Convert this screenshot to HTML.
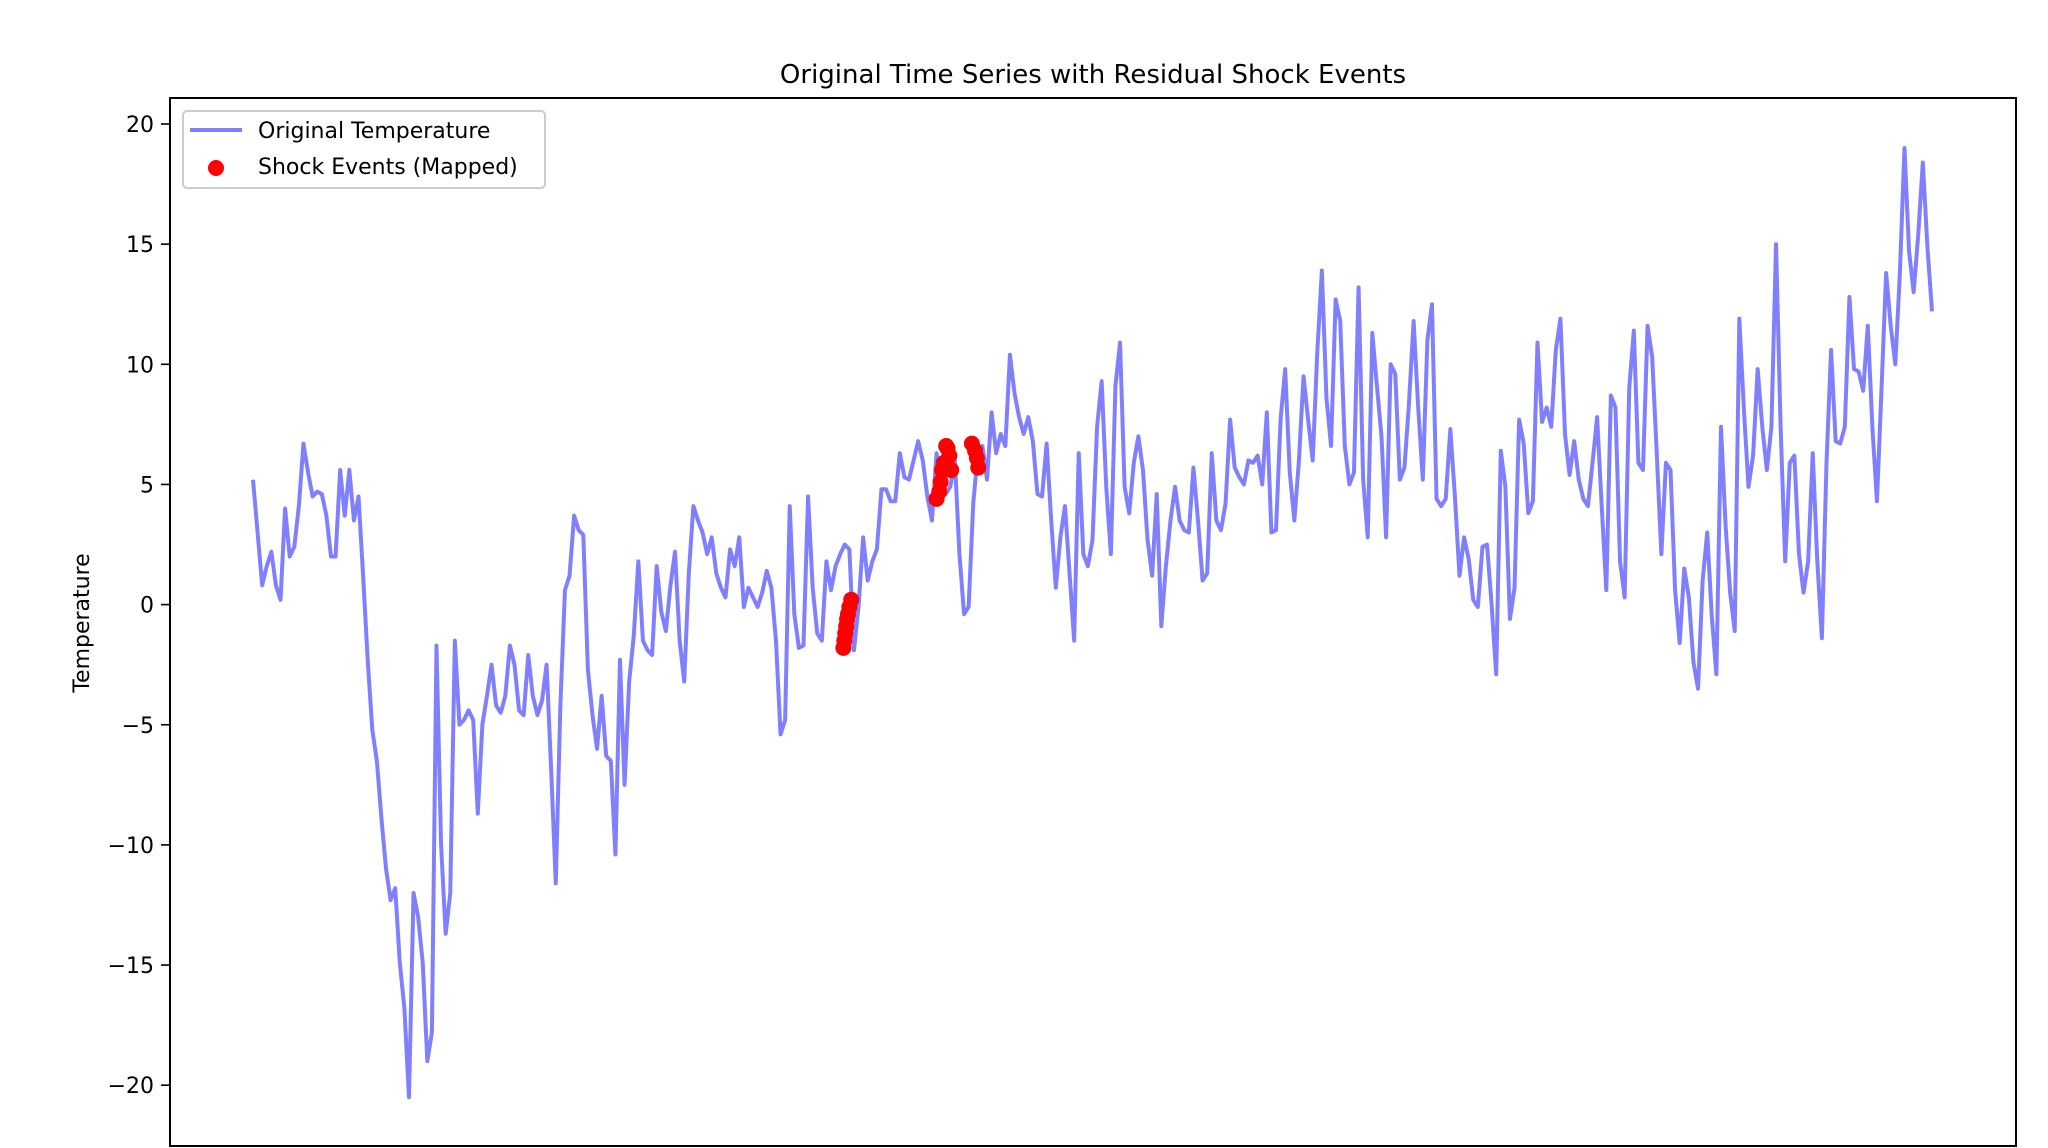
<!DOCTYPE html>
<html><head><meta charset="utf-8"><style>
html,body{margin:0;padding:0;background:#fff;}
svg{display:block;font-family:"DejaVu Sans","Liberation Sans",sans-serif;}
</style></head><body>
<svg id="chart" width="2048" height="1148" viewBox="0 0 2048 1148" xmlns="http://www.w3.org/2000/svg">
<rect width="2048" height="1148" fill="#fff"/>
<text x="1093" y="83" font-size="26" text-anchor="middle" fill="#000">Original Time Series with Residual Shock Events</text>
<text x="0" y="0" font-size="22" text-anchor="middle" fill="#000" transform="translate(89,623) rotate(-90)">Temperature</text>
<g id="yticks"></g>
<g id="plot"></g>
<rect x="170" y="98" width="1846" height="1048" fill="none" stroke="#000" stroke-width="2"/>
<g>
<rect x="183" y="111" width="362" height="77" rx="4" fill="#fff" fill-opacity="0.8" stroke="#ccc" stroke-width="2"/>
<line x1="190" y1="130" x2="242" y2="130" stroke="#8080ff" stroke-width="4"/>
<text x="258" y="138" font-size="22" fill="#000">Original Temperature</text>
<circle cx="216" cy="168" r="8" fill="#ff0000"/>
<text x="258" y="174" font-size="22" fill="#000">Shock Events (Mapped)</text>
</g>
</svg>
<script>
const yTicks = [20, 15, 10, 5, 0, -5, -10, -15, -20];
const yTickLabels = ["20", "15", "10", "5", "0", "\u22125", "\u221210", "\u221215", "\u221220"];
const temperature = [
5.2,3.0,0.8,1.6,2.2,0.8,0.2,4.0,2.0,2.4,4.1,6.7,5.5,4.5,4.7,4.6,3.7,2.0,2.0,5.6,3.7,5.6,3.5,4.5,1.2,-2.3,-5.2,-6.5,-8.9,-11,-12.3,-11.8,-14.9,-16.8,-20.5,-12,-13,-14.9,-19,-17.8,-1.7,-10,-13.7,-12,-1.5,-5,-4.8,-4.4,-4.8,-8.7,-5,-3.8,-2.5,-4.2,-4.5,-3.8,-1.7,-2.5,-4.4,-4.6,-2.1,-3.8,-4.6,-4,-2.5,-6.9,-11.6,-4.2,0.6,1.2,3.7,3.1,2.9,-2.7,-4.6,-6,-3.8,-6.3,-6.5,-10.4,-2.3,-7.5,-3.2,-1.3,1.8,-1.5,-1.9,-2.1,1.6,-0.3,-1.1,0.8,2.2,-1.5,-3.2,
1.3,4.1,3.5,3.0,2.1,2.8,1.3,0.7,0.3,2.3,1.6,2.8,-0.1,0.7,0.3,-0.1,0.5,1.4,0.7,-1.5,-5.4,-4.8,4.1,-0.4,-1.8,-1.7,4.5,0.7,-1.2,-1.5,1.8,0.6,1.6,2.1,2.5,2.3,-1.9,-0.1,2.8,1.0,1.8,2.3,4.8,4.8,4.3,4.3,6.3,5.3,5.2,6.0,6.8,6.0,4.5,3.5,6.3,4.6,4.6,4.9,6.0,2.1,-0.4,-0.1,4.2,6.3,6.6,5.2,8.0,6.3,7.1,6.6,10.4,8.8,7.8,7.1,7.8,6.8,4.6,4.5,6.7,3.5,0.7,2.8,4.1,1.3,-1.5,6.3,2.1,1.6,2.7,7.4,9.3,4.9,
2.1,9.1,10.9,4.9,3.8,5.9,7.0,5.6,2.7,1.2,4.6,-0.9,1.6,3.5,4.9,3.5,3.1,3.0,5.7,3.5,1.0,1.3,6.3,3.5,3.1,4.2,7.7,5.7,5.3,5.0,6.0,5.9,6.2,5.0,8.0,3.0,3.1,7.7,9.8,5.5,3.5,6.0,9.5,7.7,6.0,10.5,13.9,8.6,6.6,12.7,11.8,6.6,5.0,5.5,13.2,5.2,2.8,11.3,9.1,7.0,2.8,10.0,9.6,5.2,5.7,8.4,11.8,8.2,5.2,11.0,12.5,4.4,4.1,4.4,7.3,4.5,1.2,2.8,1.9,0.2,-0.1,2.4,2.5,0.0,-2.9,6.4,4.9,-0.6,0.7,7.7,
6.7,3.8,4.3,10.9,7.6,8.2,7.4,10.6,11.9,7.1,5.4,6.8,5.2,4.4,4.1,5.9,7.8,4.1,0.6,8.7,8.2,1.8,0.3,9.0,11.4,5.9,5.6,11.6,10.3,6.3,2.1,5.9,5.6,0.6,-1.6,1.5,0.3,-2.4,-3.5,1.0,3.0,-0.5,-2.9,7.4,3.3,0.5,-1.1,11.9,8.1,4.9,6.2,9.8,7.4,5.6,7.4,15.0,7.4,1.8,5.9,6.2,2.1,0.5,1.8,6.3,1.8,-1.4,5.9,10.6,6.8,6.7,7.4,12.8,9.8,9.7,8.9,11.6,7.4,4.3,9.0,13.8,11.6,10.0,13.8,19.0,14.7,13.0,15.4,18.4,14.9,12.2
];
const shockIndex = [128.7,128.9,129.1,129.3,129.5,129.7,130.0,130.4,149.0,149.6,149.9,150.2,150.6,151.1,151.4,151.8,152.2,156.7,157.4,157.8,158.1];
const shockValue = [-1.8,-1.5,-1.2,-0.9,-0.6,-0.4,-0.1,0.2,4.4,4.7,5.1,5.6,5.9,6.6,6.5,6.2,5.6,6.7,6.4,6.1,5.7];

const NS = "http://www.w3.org/2000/svg";
const X0 = 253, X1 = 1932, Y_TOP = 124, PX_PER_UNIT = 24.03;
function xScale(i){ return X0 + i * (X1 - X0) / (temperature.length - 1); }
function yScale(v){ return Y_TOP + (20 - v) * PX_PER_UNIT; }

const yg = document.getElementById('yticks');
yTicks.forEach((t, k) => {
  const y = yScale(t);
  const ln = document.createElementNS(NS, 'line');
  ln.setAttribute('x1', 161); ln.setAttribute('x2', 170);
  ln.setAttribute('y1', y); ln.setAttribute('y2', y);
  ln.setAttribute('stroke', '#000'); ln.setAttribute('stroke-width', 1.6);
  
  
  yg.appendChild(ln);
  const tx = document.createElementNS(NS, 'text');
  tx.setAttribute('x', 154); tx.setAttribute('y', y + 8);
  tx.setAttribute('font-size', 22); tx.setAttribute('text-anchor', 'end');
  tx.textContent = yTickLabels[k];
  
  
  yg.appendChild(tx);
});

const pg = document.getElementById('plot');
const path = document.createElementNS(NS, 'path');
path.setAttribute('d', temperature.map((v, i) => (i ? 'L' : 'M') + xScale(i).toFixed(2) + ',' + yScale(v).toFixed(2)).join(''));
path.setAttribute('fill', 'none');
path.setAttribute('stroke', '#8080ff');
path.setAttribute('stroke-width', 4);
path.setAttribute('stroke-linejoin', 'round');


pg.appendChild(path);

shockIndex.forEach((idx, k) => {
  const c = document.createElementNS(NS, 'circle');
  c.setAttribute('cx', xScale(idx)); c.setAttribute('cy', yScale(shockValue[k]));
  c.setAttribute('r', 8); c.setAttribute('fill', '#ff0000');
  
  
  pg.appendChild(c);
});
</script>
</body></html>
